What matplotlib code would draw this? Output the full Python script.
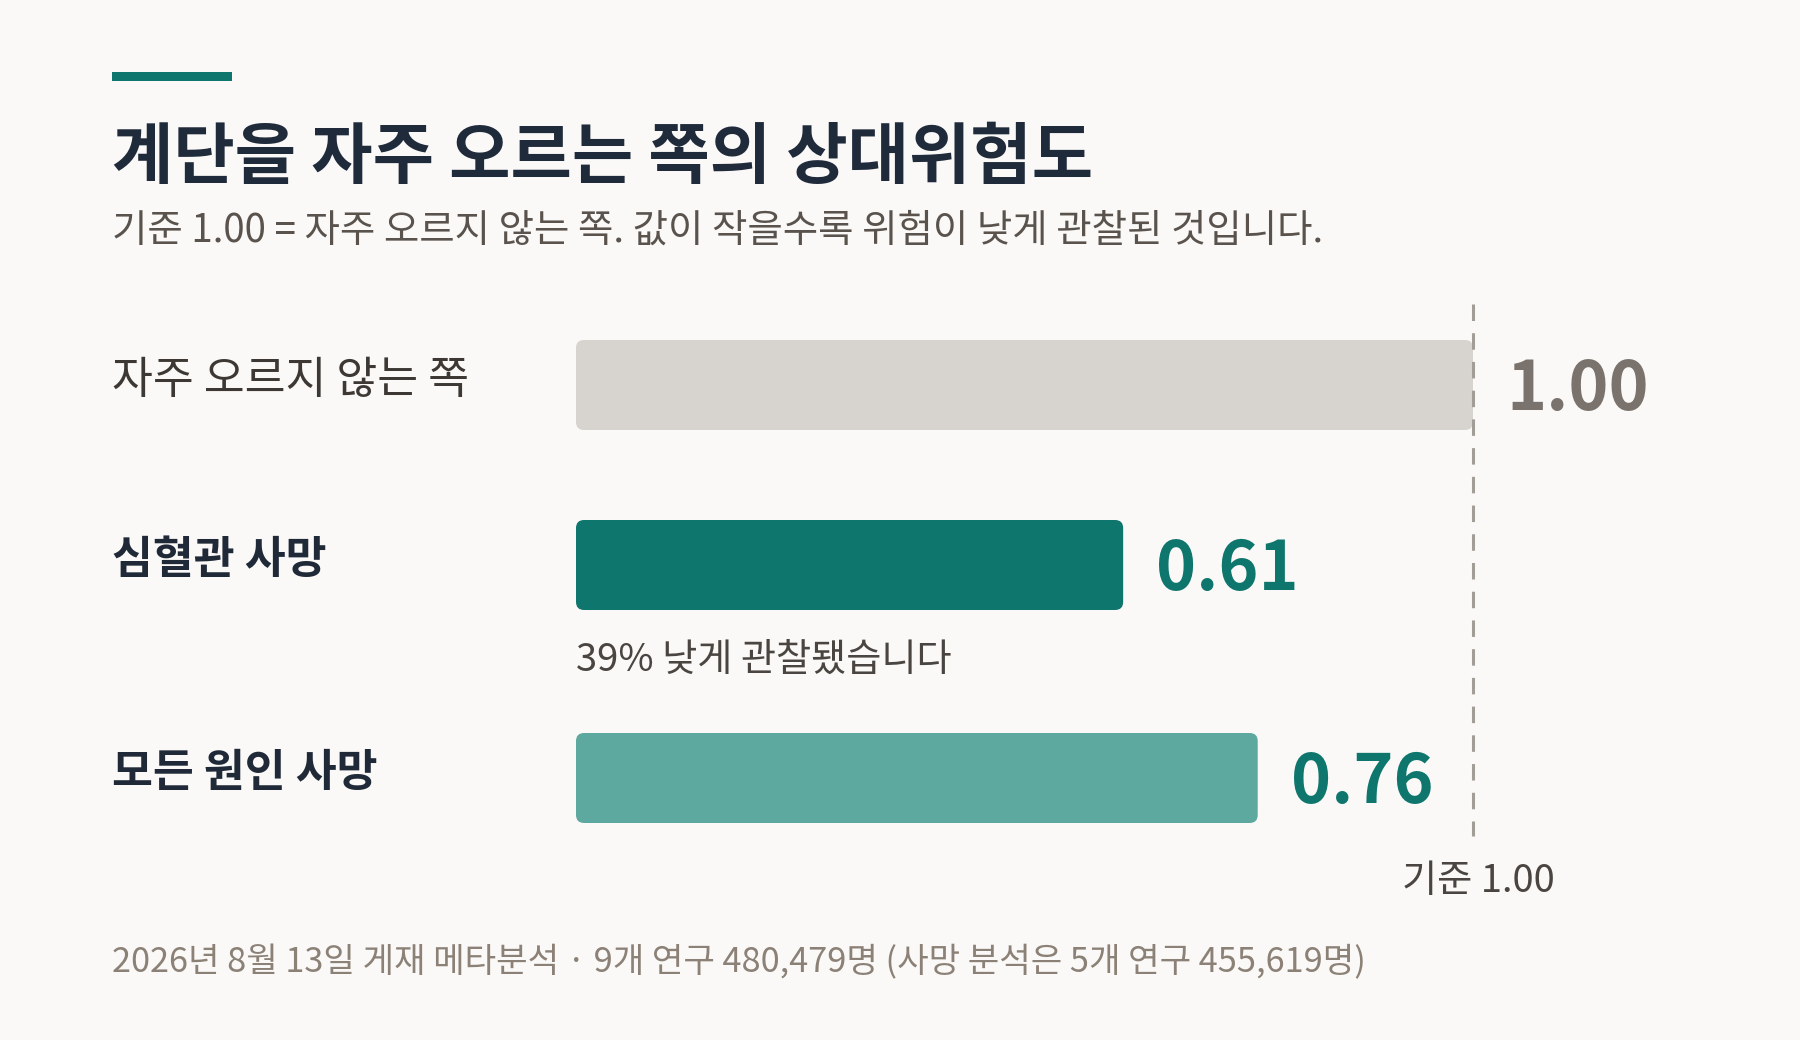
import matplotlib
matplotlib.use("Agg")
import matplotlib.pyplot as plt
from matplotlib.patches import FancyBboxPatch, Rectangle

plt.rcParams['font.family'] = ['Noto Sans CJK KR', 'DejaVu Sans']

# 데이터
categories = ['자주 오르지 않는 쪽', '심혈관 사망', '모든 원인 사망']
values = [1.00, 0.61, 0.76]
value_labels = ['1.00', '0.61', '0.76']
reference = 1.00
note = '39% 낮게 관찰됐습니다'

title = '계단을 자주 오르는 쪽의 상대위험도'
subtitle = '기준 1.00 = 자주 오르지 않는 쪽. 값이 작을수록 위험이 낮게 관찰된 것입니다.'
footer = '2026년 8월 13일 게재 메타분석 · 9개 연구 480,479명 (사망 분석은 5개 연구 455,619명)'

# 스타일
bg = '#faf9f7'
teal = '#0e766c'
bar_colors = ['#d7d3cf', teal, '#5ea99f']
value_colors = ['#7a726c', teal, teal]
label_colors = ['#3d3833', '#1f2937', '#1f2937']
label_weights = ['normal', 'bold', 'bold']

W, H = 1800, 1040
x0, unit = 576, 897          # 0값의 픽셀 위치, 1.0당 픽셀
row_y = [385, 565, 778]      # 막대 중심 (위에서부터 픽셀)
bar_h = 90

fig = plt.figure(figsize=(18, 10.4), dpi=100, facecolor=bg)
ax = fig.add_axes([0, 0, 1, 1])
ax.set_facecolor(bg)
ax.set_xlim(-x0 / unit, (W - x0) / unit)
ax.set_ylim(H, 0)
ax.axis('off')

def fx(x):
    return x / W

def fy(y):
    return 1 - y / H

# 상단 강조 막대
fig.add_artist(Rectangle((fx(112), fy(81)), 120 / W, 9 / H,
                         transform=fig.transFigure, color=teal, lw=0))

# 제목 / 부제
fig.text(fx(112), fy(178), title, fontsize=48, fontweight='bold',
         color='#1f2a3a', va='baseline')
fig.text(fx(112), fy(242), subtitle, fontsize=27.7, color='#5a534d',
         va='baseline')

# 막대 (둥근 모서리)
for yc, v, c in zip(row_y, values, bar_colors):
    ax.add_patch(FancyBboxPatch((0, yc - bar_h / 2), v, bar_h,
                                boxstyle='round,pad=0,rounding_size=0.009',
                                mutation_aspect=unit, fc=c, ec='none'))

# 기준선
ax.plot([reference, reference], [304, 836], color='#a39d97', lw=2.2,
        dashes=(5.4, 4), zorder=3)
ax.text(reference + 5 / unit, 892, '기준 ' + f'{reference:.2f}', fontsize=27.5,
        color='#4a4540', ha='center', va='baseline')

# 값 라벨
for yc, v, lab, c in zip(row_y, values, value_labels, value_colors):
    ax.text(v + 33 / unit, yc + 25, lab, fontsize=49, fontweight='bold',
            color=c, va='baseline', ha='left')

# 범주 라벨
for yc, cat, c, w in zip(row_y, categories, label_colors, label_weights):
    fig.text(fx(112), fy(yc + 8), cat, fontsize=32, fontweight=w,
             color=c, va='baseline')

# 주석
ax.text(0, 671, note, fontsize=27.5, color='#4a4540', va='baseline')

# 출처
fig.text(fx(112), fy(972), footer, fontsize=24.7, color='#8c8177',
         va='baseline')

fig.savefig('out.png', dpi=100, facecolor=bg)
